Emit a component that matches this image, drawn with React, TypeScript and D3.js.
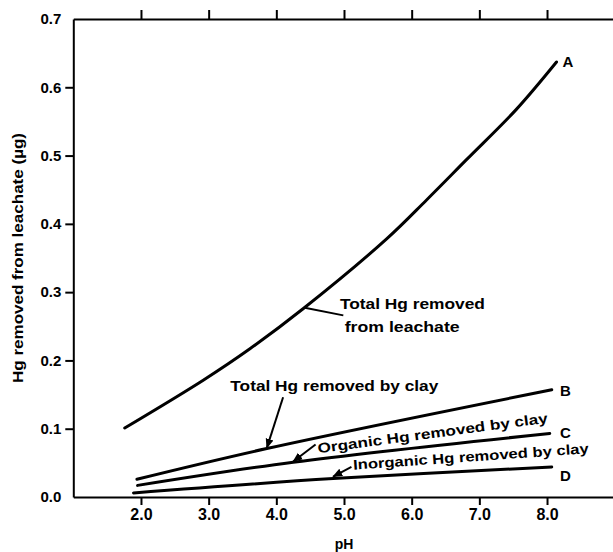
import React, { useEffect, useRef } from 'react';
import * as d3 from 'd3';

// pH values and Hg removed (µg)
const phA = [1.76, 2.92, 3.61, 4.4, 5.63, 6.22, 6.81, 7.55, 8.14];
const hgA = [0.101, 0.171, 0.217, 0.276, 0.378, 0.435, 0.494, 0.568, 0.637];
const phB = [1.94, 3.86, 8.07];
const hgB = [0.026, 0.071, 0.157];
const phC = [1.95, 4.25, 8.04];
const hgC = [0.017, 0.051, 0.093];
const phD = [1.89, 4.84, 8.07];
const hgD = [0.006, 0.027, 0.044];

const xTicks = [2, 3, 4, 5, 6, 7, 8];
const yTicks = [0, 0.1, 0.2, 0.3, 0.4, 0.5, 0.6, 0.7];

const curveLabels = ['A', 'B', 'C', 'D'];
const curveLabelPh = [8.31, 8.27, 8.27, 8.27];
const curveLabelHg = [0.635, 0.154, 0.092, 0.029];

const FONT = "'Liberation Sans', Arial, sans-serif";

const App = () => {
  const svgRef = useRef(null);

  useEffect(() => {
    const width = 613;
    const height = 552;

    const x = d3.scaleLinear().domain([1, 9]).range([73.3, 614.7]);
    const y = d3.scaleLinear().domain([0, 0.7]).range([497, 19]);

    const svg = d3.select(svgRef.current)
      .attr('width', width)
      .attr('height', height)
      .attr('viewBox', [0, 0, width, height])
      .style('font-family', FONT);

    svg.selectAll('*').remove();

    svg.append('defs').append('marker')
      .attr('id', 'arr')
      .attr('viewBox', '0 0 10 10')
      .attr('refX', 9).attr('refY', 5)
      .attr('markerWidth', 5).attr('markerHeight', 5)
      .attr('orient', 'auto')
      .append('path').attr('d', 'M0,1 L10,5 L0,9 Z').attr('fill', '#000');

    const styleAxis = (g, size) => {
      g.select('.domain').attr('stroke-width', 2);
      g.selectAll('.tick line').attr('stroke-width', 2);
      g.selectAll('.tick text')
        .attr('font-family', FONT)
        .attr('font-weight', 'bold')
        .attr('font-size', size)
        .attr('fill', '#000');
    };

    // bottom axis
    svg.append('g')
      .attr('transform', `translate(0,${y(0)})`)
      .call(d3.axisBottom(x).tickValues(xTicks).tickFormat(d3.format('.1f')).tickSize(8).tickSizeOuter(0).tickPadding(4))
      .call(g => styleAxis(g, 16));

    // top axis (ticks only)
    svg.append('g')
      .attr('transform', `translate(0,${y(0.7)})`)
      .call(d3.axisTop(x).tickValues(xTicks).tickFormat(() => '').tickSize(9).tickSizeOuter(0))
      .call(g => styleAxis(g, 16));

    // left axis
    svg.append('g')
      .attr('transform', `translate(${x(1)},0)`)
      .call(d3.axisLeft(y).tickValues(yTicks).tickFormat(d3.format('.1f')).tickSize(8).tickSizeOuter(0).tickPadding(4))
      .call(g => styleAxis(g, 15))
      .call(g => g.selectAll('.tick').filter(d => d === 0 || d === 0.7).select('line').remove());

    // axis titles
    svg.append('text')
      .attr('x', x(5)).attr('y', 549)
      .attr('text-anchor', 'middle')
      .attr('font-weight', 'bold').attr('font-size', 14)
      .text('pH');

    svg.append('text')
      .attr('transform', `translate(23,${y(0.35)}) rotate(-90)`)
      .attr('text-anchor', 'middle')
      .attr('font-weight', 'bold').attr('font-size', 14)
      .attr('textLength', 250).attr('lengthAdjust', 'spacingAndGlyphs')
      .text('Hg removed from leachate (µg)');

    // curves
    const series = [[phA, hgA], [phB, hgB], [phC, hgC], [phD, hgD]];
    series.forEach(([ph, hg]) => {
      const line = d3.line<number>()
        .x((d, i) => x(ph[i]))
        .y(d => y(d))
        .curve(d3.curveCatmullRom);
      svg.append('path')
        .datum(hg)
        .attr('fill', 'none')
        .attr('stroke', '#000')
        .attr('stroke-width', 3)
        .attr('stroke-linecap', 'round')
        .attr('d', line);
    });

    // curve letters
    curveLabels.forEach((t, i) => {
      svg.append('text')
        .attr('x', x(curveLabelPh[i])).attr('y', y(curveLabelHg[i]))
        .attr('text-anchor', 'middle')
        .attr('dominant-baseline', 'middle')
        .attr('font-weight', 'bold').attr('font-size', 15)
        .text(t);
    });

    // annotation text
    const note = (ph, hg, txt, len, angle = 0) => {
      svg.append('text')
        .attr('transform', `translate(${x(ph)},${y(hg)}) rotate(${angle})`)
        .attr('font-weight', 'bold').attr('font-size', 14)
        .attr('textLength', len).attr('lengthAdjust', 'spacingAndGlyphs')
        .text(txt);
    };
    note(4.94, 0.276, 'Total Hg removed', 145);
    note(5.01, 0.241, 'from leachate', 115);
    note(3.32, 0.155, 'Total Hg removed by clay', 208);
    note(4.62, 0.064, 'Organic Hg removed by clay', 232, -7.6);
    note(5.14, 0.040, 'Inorganic Hg removed by clay', 236, -4);

    // pointer lines
    const pointer = (p0, h0, p1, h1, arrow) => {
      const ln = svg.append('line')
        .attr('x1', x(p0)).attr('y1', y(h0))
        .attr('x2', x(p1)).attr('y2', y(h1))
        .attr('stroke', '#000').attr('stroke-width', 2);
      if (arrow) ln.attr('marker-end', 'url(#arr)');
    };
    pointer(4.99, 0.266, 4.42, 0.277, false);
    pointer(4.10, 0.146, 3.86, 0.072, true);
    pointer(4.58, 0.077, 4.25, 0.052, true);
    pointer(5.11, 0.044, 4.84, 0.030, true);
  }, []);

  return (
    <svg ref={svgRef} style={{ position: 'absolute', left: 0, top: 0, background: '#fff' }}></svg>
  );
};

export default App;
